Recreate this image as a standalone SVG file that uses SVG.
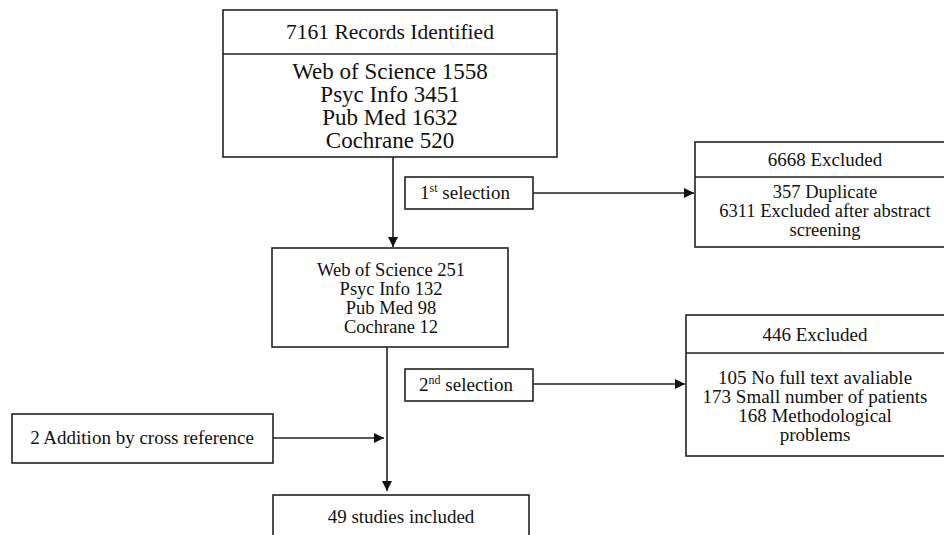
<svg xmlns="http://www.w3.org/2000/svg" width="944" height="535" viewBox="0 0 944 535">
<style>
.box{fill:#fff;stroke:#222;stroke-width:1.6}
.ln{stroke:#222;stroke-width:1.6;fill:none}
text{fill:#111;text-anchor:middle;font-size:19px}
.big{font-size:23px}
.title{font-size:21.5px}
.sm{font-size:18.5px}
</style>
<defs>
<marker id="ah" viewBox="0 0 10 10" refX="10" refY="5" markerWidth="10" markerHeight="10" markerUnits="userSpaceOnUse" orient="auto">
<path d="M0,0 L10,5 L0,10 Z" fill="#111"/>
</marker>
</defs>
<rect width="944" height="535" fill="#fff"/>
<g id="connectors">
<line class="ln" x1="393" y1="157" x2="393" y2="247" marker-end="url(#ah)"/>
<line class="ln" x1="533" y1="193" x2="694" y2="193" marker-end="url(#ah)"/>
<line class="ln" x1="387" y1="347" x2="387" y2="491" marker-end="url(#ah)"/>
<line class="ln" x1="533" y1="384" x2="685" y2="384" marker-end="url(#ah)"/>
<line class="ln" x1="273" y1="438" x2="384" y2="438" marker-end="url(#ah)"/>
</g>
<g font-family="'Liberation Serif', 'DejaVu Serif', serif">
<g id="records">
<rect class="box" x="223" y="10" width="334" height="147"/>
<line class="ln" x1="223" y1="54" x2="557" y2="54"/>
<text class="title" x="390" y="39">7161 Records Identified</text>
<text class="big" x="390" y="79">Web of Science 1558</text>
<text class="big" x="390" y="102">Psyc Info 3451</text>
<text class="big" x="390" y="125">Pub Med 1632</text>
<text class="big" x="390" y="148">Cochrane 520</text>
</g>
<g id="sel1">
<rect class="box" x="405" y="177" width="128" height="32"/>
<text x="465" y="199">1<tspan font-size="12" dy="-7">st</tspan><tspan dy="7"> selection</tspan></text>
</g>
<g id="excluded1">
<rect class="box" x="695" y="142" width="262" height="105"/>
<line class="ln" x1="695" y1="177" x2="957" y2="177"/>
<text x="825" y="166">6668 Excluded</text>
<text class="sm" x="825" y="198">357 Duplicate</text>
<text class="sm" x="825" y="217">6311 Excluded after abstract</text>
<text class="sm" x="825" y="236">screening</text>
</g>
<g id="after1">
<rect class="box" x="272" y="248" width="236" height="99"/>
<text class="sm" x="391" y="276">Web of Science 251</text>
<text class="sm" x="391" y="295">Psyc Info 132</text>
<text class="sm" x="391" y="314">Pub Med 98</text>
<text class="sm" x="391" y="333">Cochrane 12</text>
</g>
<g id="sel2">
<rect class="box" x="405" y="369" width="128" height="32"/>
<text x="466" y="391">2<tspan font-size="12" dy="-7">nd</tspan><tspan dy="7"> selection</tspan></text>
</g>
<g id="excluded2">
<rect class="box" x="686" y="315" width="262" height="141"/>
<line class="ln" x1="686" y1="353" x2="948" y2="353"/>
<text x="815" y="341">446 Excluded</text>
<text x="815" y="384">105 No full text avaliable</text>
<text x="815" y="403">173 Small number of patients</text>
<text x="815" y="422">168 Methodological</text>
<text x="815" y="441">problems</text>
</g>
<g id="addition">
<rect class="box" x="12" y="414" width="261" height="49"/>
<text x="142" y="444">2 Addition by cross reference</text>
</g>
<g id="included">
<rect class="box" x="273" y="495" width="256" height="60"/>
<text x="401" y="523">49 studies included</text>
</g>
</g>
</svg>
